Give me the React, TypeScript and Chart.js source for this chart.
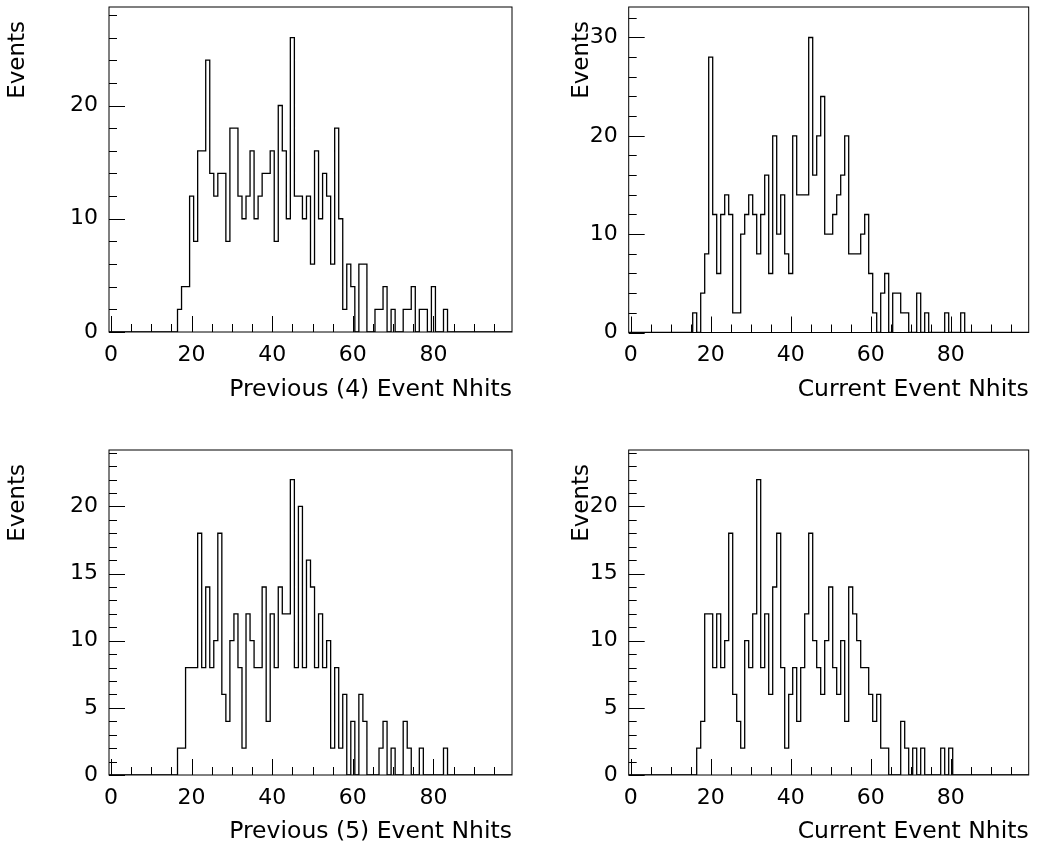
import React, { useEffect, useRef } from "react";
import { Chart, registerables } from "chart.js";

Chart.register(...registerables);

// ---- data (bin counts, one value per integer Nhits bin starting at FIRST_BIN) ----
const FIRST_BIN = 16;
const N_BINS = 100;
const X_MIN = -0.5;
const X_MAX = 99.5;

const prev4Counts = [
  0, 2, 4, 4, 12, 8, 16, 16, 24, 14, // 16-25
  12, 14, 14, 8, 18, 18, 12, 10, 12, 16, // 26-35
  10, 12, 14, 14, 16, 8, 20, 16, 10, 26, // 36-45
  12, 12, 10, 12, 6, 16, 10, 14, 12, 6, // 46-55
  18, 10, 2, 6, 4, 0, 6, 6, 0, 0, // 56-65
  2, 2, 4, 0, 2, 0, 0, 2, 2, 4, // 66-75
  0, 2, 2, 0, 4, 0, 0, 2, // 76-83
];

const current1Counts = [
  2, 0, 4, 8, 28, 12, 6, 12, 14, 12, // 16-25
  2, 2, 10, 12, 14, 12, 8, 12, 16, 6, // 26-35
  20, 10, 14, 8, 6, 20, 14, 14, 14, 30, // 36-45
  16, 20, 24, 10, 10, 12, 14, 16, 20, 8, // 46-55
  8, 8, 10, 12, 6, 2, 0, 4, 6, 0, // 56-65
  4, 4, 2, 2, 0, 0, 4, 0, 2, 0, // 66-75
  0, 0, 0, 2, 0, 0, 0, 2, // 76-83
];

const prev5Counts = [
  0, 2, 2, 8, 8, 8, 18, 8, 14, 8, // 16-25
  10, 18, 6, 4, 10, 12, 8, 2, 12, 10, // 26-35
  8, 8, 14, 4, 12, 8, 14, 12, 12, 22, // 36-45
  8, 20, 8, 16, 14, 8, 12, 8, 10, 2, // 46-55
  8, 2, 6, 0, 4, 0, 6, 4, 0, 0, // 56-65
  0, 2, 4, 0, 2, 0, 0, 4, 2, 0, // 66-75
  0, 2, 0, 0, 0, 0, 0, 2, // 76-83
];

const current2Counts = [
  0, 2, 4, 12, 12, 8, 12, 8, 10, 18, // 16-25
  6, 4, 2, 10, 8, 12, 22, 8, 12, 6, // 26-35
  14, 18, 8, 2, 6, 8, 4, 8, 12, 18, // 36-45
  10, 8, 6, 10, 14, 8, 6, 10, 4, 14, // 46-55
  12, 10, 8, 8, 6, 4, 6, 2, 2, 0, // 56-65
  0, 0, 4, 2, 0, 2, 0, 2, 0, 0, // 66-75
  0, 0, 2, 0, 2, 0, 0, 0, // 76-83
];

const xTickLabels = [0, 20, 40, 60, 80];
const yTicksPrev4 = [0, 10, 20];
const yTicksCurrent1 = [0, 10, 20, 30];
const yTicksBottom = [0, 5, 10, 15, 20];
const xTitles = [
  "Previous (4) Event Nhits",
  "Current Event Nhits",
  "Previous (5) Event Nhits",
  "Current Event Nhits",
];
const yTitle = "Events";

const FONT_FAMILY = "'DejaVu Sans', 'Liberation Sans', sans-serif";

function histPoints(counts: number[]) {
  const pts: { x: number; y: number }[] = [];
  for (let n = 0; n < N_BINS; n++) {
    const i = n - FIRST_BIN;
    const v = i >= 0 && i < counts.length ? counts[i] : 0;
    pts.push({ x: n - 0.5, y: v });
  }
  pts.push({ x: X_MAX, y: 0 });
  return pts;
}

type PanelSpec = {
  left: number;
  top: number;
  width: number;
  height: number;
  area: { left: number; top: number; right: number; bottom: number };
  counts: number[];
  yMax: number;
  yTicks: number[];
  yMinor: number;
  xTitle: string;
  titlePadBottom: number;
  eventsX: number;
};

const panels: PanelSpec[] = [
  {
    left: 0, top: 0, width: 519, height: 420,
    area: { left: 109, top: 7, right: 512, bottom: 332 },
    counts: prev4Counts, yMax: 28.7, yTicks: yTicksPrev4, yMinor: 2,
    xTitle: xTitles[0], titlePadBottom: 16, eventsX: 18,
  },
  {
    left: 519, top: 0, width: 520, height: 420,
    area: { left: 109.7, top: 7, right: 509.7, bottom: 332.5 },
    counts: current1Counts, yMax: 33.1, yTicks: yTicksCurrent1, yMinor: 2,
    xTitle: xTitles[1], titlePadBottom: 16, eventsX: 63,
  },
  {
    left: 0, top: 440, width: 519, height: 410,
    area: { left: 109, top: 10, right: 512, bottom: 335 },
    counts: prev5Counts, yMax: 24.2, yTicks: yTicksBottom, yMinor: 1,
    xTitle: xTitles[2], titlePadBottom: 4, eventsX: 18,
  },
  {
    left: 519, top: 440, width: 520, height: 410,
    area: { left: 109.7, top: 10, right: 509.7, bottom: 335 },
    counts: current2Counts, yMax: 24.2, yTicks: yTicksBottom, yMinor: 1,
    xTitle: xTitles[3], titlePadBottom: 4, eventsX: 63,
  },
];

const frameTicksPlugin = {
  id: "frameTicks",
  afterDraw(chart: any, _args: any, opts: any) {
    const { ctx, chartArea, scales } = chart;
    const { left, top, right, bottom } = chartArea;
    const xs = scales.x;
    const ys = scales.y;
    ctx.save();
    ctx.strokeStyle = "#000";
    ctx.lineWidth = 1;
    ctx.strokeRect(left, top, right - left, bottom - top);
    ctx.beginPath();
    for (let v = 0; v <= 95; v += 5) {
      const px = Math.round(xs.getPixelForValue(v)) + 0.5;
      const len = v % 20 === 0 ? 16 : 8;
      ctx.moveTo(px, bottom);
      ctx.lineTo(px, bottom - len);
    }
    const major: number[] = opts.yTicks;
    const step = major[1] - major[0];
    for (let v = 0; v <= ys.max + 1e-6; v += opts.yMinor) {
      const py = Math.round(ys.getPixelForValue(v)) + 0.5;
      const isMajor = Math.abs(v / step - Math.round(v / step)) < 1e-6;
      const len = isMajor ? 16 : 8;
      ctx.moveTo(left, py);
      ctx.lineTo(left + len, py);
    }
    ctx.stroke();
    // y-axis title
    ctx.fillStyle = "#000";
    ctx.font = `23px ${FONT_FAMILY}`;
    ctx.translate(opts.eventsX, top + 14);
    ctx.rotate(-Math.PI / 2);
    ctx.textAlign = "right";
    ctx.textBaseline = "middle";
    ctx.fillText(opts.yTitle, 0, 0);
    ctx.restore();
  },
};

function Panel({ spec }: { spec: PanelSpec }) {
  const ref = useRef<HTMLCanvasElement | null>(null);
  useEffect(() => {
    if (!ref.current) return;
    const { area, width, height } = spec;
    const chart = new Chart(ref.current, {
      type: "line",
      data: {
        datasets: [
          {
            data: histPoints(spec.counts),
            stepped: "before",
            borderColor: "#000",
            borderWidth: 1.3,
            pointRadius: 0,
            fill: false,
            tension: 0,
          } as any,
        ],
      },
      options: {
        responsive: false,
        animation: false,
        parsing: false as any,
        layout: {
          padding: { left: 0, top: area.top, right: width - area.right, bottom: 0 },
        },
        plugins: {
          legend: { display: false },
          tooltip: { enabled: false },
          frameTicks: { yTicks: spec.yTicks, yMinor: spec.yMinor, eventsX: spec.eventsX, yTitle },
        } as any,
        scales: {
          x: {
            type: "linear",
            min: X_MIN,
            max: X_MAX,
            grid: { display: false, drawTicks: false },
            border: { display: false },
            afterBuildTicks: (s: any) => {
              s.ticks = xTickLabels.map((v) => ({ value: v }));
            },
            afterFit: (s: any) => {
              s.height = height - area.bottom;
              s.paddingLeft = 0;
              s.paddingRight = 0;
            },
            ticks: {
              color: "#000",
              font: { family: FONT_FAMILY, size: 22 },
              padding: 10,
              maxRotation: 0,
              autoSkip: false,
            },
            title: {
              display: true,
              text: spec.xTitle,
              align: "end",
              color: "#000",
              font: { family: FONT_FAMILY, size: 23.5 },
              padding: { top: 0, bottom: spec.titlePadBottom },
            },
          },
          y: {
            type: "linear",
            min: 0,
            max: spec.yMax,
            grid: { display: false, drawTicks: false },
            border: { display: false },
            afterBuildTicks: (s: any) => {
              s.ticks = spec.yTicks.map((v) => ({ value: v }));
            },
            afterFit: (s: any) => {
              s.width = area.left;
              s.paddingTop = 0;
              s.paddingBottom = 0;
            },
            ticks: {
              color: "#000",
              font: { family: FONT_FAMILY, size: 22 },
              padding: 11,
              autoSkip: false,
            },
          },
        } as any,
      },
      plugins: [frameTicksPlugin],
    });
    return () => chart.destroy();
  }, [spec]);
  return (
    <canvas
      ref={ref}
      width={spec.width}
      height={spec.height}
      style={{
        position: "absolute",
        left: spec.left,
        top: spec.top,
        width: spec.width,
        height: spec.height,
      }}
    />
  );
}

export default function App() {
  return (
    <div
      style={{
        position: "fixed",
        left: 0,
        top: 0,
        width: 1039,
        height: 850,
        background: "#fff",
        overflow: "hidden",
      }}
    >
      {panels.map((p, i) => (
        <Panel key={i} spec={p} />
      ))}
    </div>
  );
}
